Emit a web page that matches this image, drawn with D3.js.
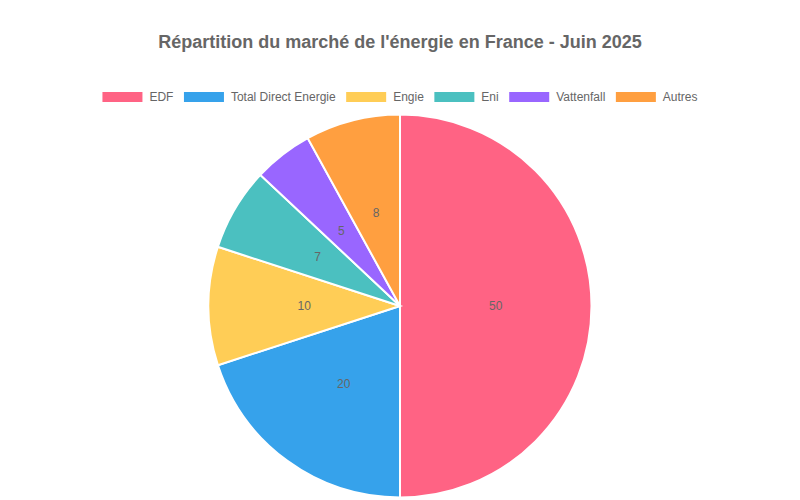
<!DOCTYPE html>
<html>
<head>
<meta charset="utf-8">
<script src="https://cdn.jsdelivr.net/npm/d3@7"></script>
<style>
  body { margin: 0; background: #fff; }
  text { font-family: "Liberation Sans", Arial, sans-serif; }
</style>
</head>
<body>
<svg id="chart" width="800" height="500"></svg>
<script>
var categories = ['EDF', 'Total Direct Energie', 'Engie', 'Eni', 'Vattenfall', 'Autres'];
var shares = [50, 20, 10, 7, 5, 8];
var colors = ['#ff6384', '#36a2eb', '#ffcd56', '#4bc0c0', '#9966ff', '#ff9f40'];

var svg = d3.select('#chart'),
    width = 800,
    cx = 400, cy = 306, radius = 191.5;

svg.append('text')
  .attr('x', width / 2)
  .attr('y', 48)
  .attr('text-anchor', 'middle')
  .style('font-size', '18px')
  .style('font-weight', 'bold')
  .style('fill', '#666')
  .text("Répartition du marché de l'énergie en France - Juin 2025");

// legend: measure text first so the row can be centered
var boxW = 40, boxH = 10, gapText = 7, gapItem = 10.5;
var legend = svg.append('g');
var items = legend.selectAll('g').data(categories).enter().append('g');
items.append('rect')
  .attr('width', boxW).attr('height', boxH)
  .attr('y', 92)
  .style('fill', function(d, i) { return colors[i]; });
items.append('text')
  .attr('y', 101)
  .style('font-size', '12px')
  .style('fill', '#666')
  .text(function(d) { return d; });

var x = 0, offsets = [];
items.each(function() {
  var w = d3.select(this).select('text').node().getComputedTextLength();
  offsets.push(x);
  x += boxW + gapText + w + gapItem;
});
var total = x - gapItem, start = (width - total) / 2;
items.each(function(d, i) {
  var g = d3.select(this);
  g.select('rect').attr('x', start + offsets[i]);
  g.select('text').attr('x', start + offsets[i] + boxW + gapText);
});

var pie = d3.pie().sort(null).value(function(d) { return d; });
var arc = d3.arc().innerRadius(0).outerRadius(radius);
var labelArc = d3.arc().innerRadius(radius / 2).outerRadius(radius / 2);

var slices = svg.append('g')
  .attr('transform', 'translate(' + cx + ',' + cy + ')')
  .selectAll('g').data(pie(shares)).enter().append('g');

slices.append('path')
  .attr('d', arc)
  .style('fill', function(d, i) { return colors[i]; })
  .style('stroke', '#fff')
  .style('stroke-width', 2);

slices.append('text')
  .attr('transform', function(d) { return 'translate(' + labelArc.centroid(d) + ')'; })
  .attr('text-anchor', 'middle')
  .attr('dy', '0.35em')
  .style('font-size', '12px')
  .style('fill', '#666')
  .text(function(d) { return d.data; });
</script>
</body>
</html>
